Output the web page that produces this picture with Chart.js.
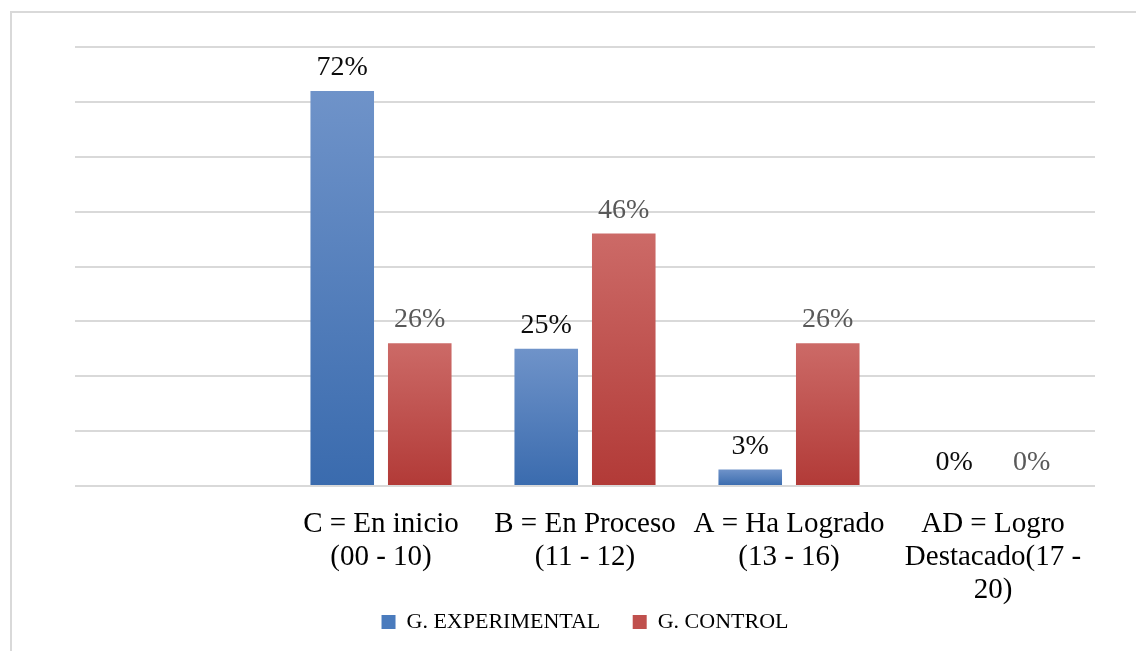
<!DOCTYPE html>
<html>
<head>
<meta charset="utf-8">
<script src="https://cdn.jsdelivr.net/npm/chart.js@4/dist/chart.umd.min.js"></script>
<style>
  html, body { margin: 0; padding: 0; background: #fff; }
  #wrap { position: relative; width: 1136px; height: 651px; overflow: hidden; }
  #frame { position: absolute; left: 10px; top: 11px; width: 1200px; height: 700px;
           border-left: 2px solid #d9d9d9; border-top: 2px solid #d9d9d9; }
  canvas { position: absolute; left: 0; top: 0; }
</style>
</head>
<body>
<div id="wrap">
  <div id="frame"></div>
  <canvas id="chart" width="1136" height="651"></canvas>
</div>
<script>
// categorias (la primera va vacia, como en el original)
const categories = [
    '',
    ['C = En inicio', '(00 - 10)'],
    ['B = En Proceso', '(11 - 12)'],
    ['A = Ha Logrado', '(13 - 16)'],
    ['AD = Logro', 'Destacado(17 -', '20)']
];
const seriesNames = ['G. EXPERIMENTAL', 'G. CONTROL'];
const experimental = [null, 72, 25, 3, 0];
const control = [null, 26, 46, 26, 0];

// degradado por barra, de claro arriba a oscuro abajo
function barGradient(ctx, top, bottom) {
    return function (context) {
        const chart = context.chart;
        const y = chart.scales.y;
        if (!y || context.parsed == null || context.parsed.y == null) return bottom;
        const y0 = y.getPixelForValue(context.parsed.y);
        const y1 = y.getPixelForValue(0);
        if (!isFinite(y0) || y1 - y0 < 1) return bottom;
        const g = chart.ctx.createLinearGradient(0, y0, 0, y1);
        g.addColorStop(0, top);
        g.addColorStop(1, bottom);
        return g;
    };
}

const labelColors = ['#0d0d0d', '#595959'];

const valueLabels = {
    id: 'valueLabels',
    afterDatasetsDraw(chart) {
        const ctx = chart.ctx;
        ctx.save();
        ctx.font = '28px "Liberation Serif", "Times New Roman", serif';
        ctx.textAlign = 'center';
        ctx.textBaseline = 'alphabetic';
        chart.data.datasets.forEach((ds, i) => {
            const meta = chart.getDatasetMeta(i);
            meta.data.forEach((bar, j) => {
                const v = ds.data[j];
                if (v == null) return;
                ctx.fillStyle = labelColors[i];
                ctx.fillText(v + '%', bar.x, bar.y - 16);
            });
        });
        ctx.restore();
    }
};

const ctx = document.getElementById('chart').getContext('2d');

new Chart(ctx, {
    type: 'bar',
    data: {
        labels: categories,
        datasets: [{
            label: seriesNames[0],
            data: experimental,
            backgroundColor: barGradient(ctx, '#6f93c9', '#3a6bae'),
            categoryPercentage: 0.76,
            barPercentage: 0.82
        }, {
            label: seriesNames[1],
            data: control,
            backgroundColor: barGradient(ctx, '#cc6a67', '#b23a37'),
            categoryPercentage: 0.76,
            barPercentage: 0.82
        }]
    },
    options: {
        responsive: false,
        animation: false,
        layout: { padding: { left: 75, right: 41, top: 47, bottom: 8 } },
        scales: {
            x: {
                grid: { display: false, drawTicks: false },
                border: { display: false },
                afterFit: (scale) => { scale.height = 119; },
                ticks: {
                    color: '#000',
                    padding: 22,
                    maxRotation: 0,
                    autoSkip: false,
                    font: { family: '"Liberation Serif", "Times New Roman", serif', size: 29, lineHeight: 1.14 }
                }
            },
            y: {
                min: 0,
                max: 80,
                ticks: { stepSize: 10, display: false },
                border: { display: false },
                grid: { color: '#d9d9d9', lineWidth: 2, drawTicks: false }
            }
        },
        plugins: {
            legend: {
                position: 'bottom',
                labels: {
                    color: '#000',
                    boxWidth: 14,
                    boxHeight: 14,
                    padding: 6,
                    font: { family: '"Liberation Serif", "Times New Roman", serif', size: 22 },
                    generateLabels(chart) {
                        const fills = ['#4a7bbd', '#c0504d'];
                        const n = chart.data.datasets.length;
                        return chart.data.datasets.map((ds, i) => ({
                            // espacio extra entre las dos entradas
                            text: i < n - 1 ? ds.label + '\u2003\u2009' : ds.label,
                            fillStyle: fills[i],
                            strokeStyle: fills[i],
                            lineWidth: 0,
                            datasetIndex: i,
                            fontColor: '#000'
                        }));
                    }
                }
            },
            tooltip: { enabled: false }
        }
    },
    plugins: [valueLabels]
});
</script>
</body>
</html>
